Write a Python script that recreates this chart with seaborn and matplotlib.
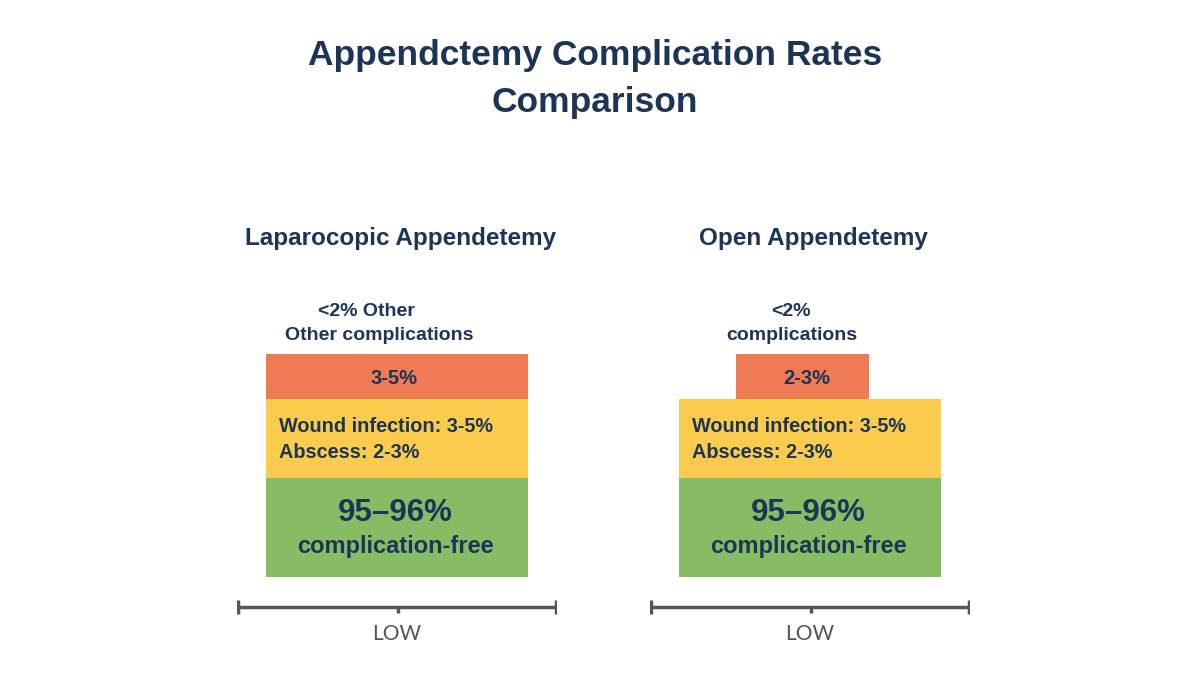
import numpy as np
import matplotlib.pyplot as plt
import seaborn as sns

# ---- data -------------------------------------------------------------
title = "Appendctemy Complication Rates\nComparison"
panel_titles = ["Laparocopic Appendetemy", "Open Appendetemy"]
layer_names = ["complication-free", "wound / abscess", "other"]
layer_heights = [99, 79, 45]
free_pct = ["95–96%", "95–96%"]
free_label = "complication-free"
mid_lines = [["Wound infection: 3-5%", "Abscess: 2-3%"],
             ["Wound infection: 3-5%", "Abscess: 2-3%"]]
top_pct = ["3-5%", "2-3%"]
top_notes = [["<2% Other", "Other complications"],
             ["<2%", "complications"]]
scale_label = "LOW"

# ---- layout / style ---------------------------------------------------
layer_colors = ["#88bc64", "#fbcb4e", "#ef7b54"]
layer_widths = [[0.82, 0.82, 0.82], [0.816, 0.816, 0.416]]
layer_centers = [[0.5, 0.5, 0.5], [0.5, 0.5, 0.476]]
panel_left_px = [237, 650]
navy = "#1c3557"
grey = "#555555"

sns.set_theme(style="white")
plt.rcParams['font.family'] = ['Liberation Sans', 'DejaVu Sans']

fig = plt.figure(figsize=(12, 6.75), dpi=100)
fig.patch.set_facecolor("white")

fig.text(595 / 1200, 1 - 79 / 675, title, ha="center", va="center",
         fontsize=25.5, fontweight="bold", color=navy, linespacing=1.55)

base = 83   # bottom of the stacks (data units above the axes bottom)
line_y = 53

for i in range(2):
    ax = fig.add_axes([panel_left_px[i] / 1200, 15 / 675, 320 / 1200, 460 / 675])
    ax.set_xlim(0, 1)
    ax.set_ylim(0, 460)
    ax.axis("off")

    bottoms = base + np.concatenate([[0], np.cumsum(layer_heights)[:-1]])
    for j, name in enumerate(layer_names):
        ax.bar(layer_centers[i][j], layer_heights[j], width=layer_widths[i][j],
               bottom=bottoms[j], color=layer_colors[j], edgecolor="none",
               label=name)

    # scale line under each stack
    ax.hlines(line_y, 0, 1, color=grey, lw=2.5)
    ax.vlines([0.003, 0.997], line_y - 7, line_y + 7, color=grey, lw=2.5)
    ax.vlines(0.503, line_y - 6, line_y, color=grey, lw=2.5)
    ax.text(0.5, 26, scale_label, ha="center", va="center", fontsize=15,
            color=grey, family=["Lato", "DejaVu Sans"])

    # texts
    ax.text(0.51, 422, panel_titles[i], ha="center", va="center",
            fontsize=17.5, fontweight="bold", color=navy)
    note_x = [0.406, 0.445] if i == 0 else [0.439, 0.444]
    ax.text(note_x[0], 349, top_notes[i][0], ha="center", va="center",
            fontsize=14, fontweight="bold", color=navy)
    ax.text(note_x[1], 324, top_notes[i][1], ha="center", va="center",
            fontsize=14, fontweight="bold", color=navy)
    ax.text(0.49, 281, top_pct[i], ha="center", va="center",
            fontsize=14.5, fontweight="bold", color=navy)
    ax.text(0.13, 234, mid_lines[i][0], ha="left", va="center",
            fontsize=14.3, fontweight="bold", color=navy)
    ax.text(0.13, 207, mid_lines[i][1], ha="left", va="center",
            fontsize=14.3, fontweight="bold", color=navy)
    ax.text(0.495, 147, free_pct[i], ha="center", va="center",
            fontsize=22.5, fontweight="bold", color=navy)
    ax.text(0.495, 114, free_label, ha="center", va="center",
            fontsize=17, fontweight="bold", color=navy)

fig.savefig("out.png", dpi=100, facecolor="white")
